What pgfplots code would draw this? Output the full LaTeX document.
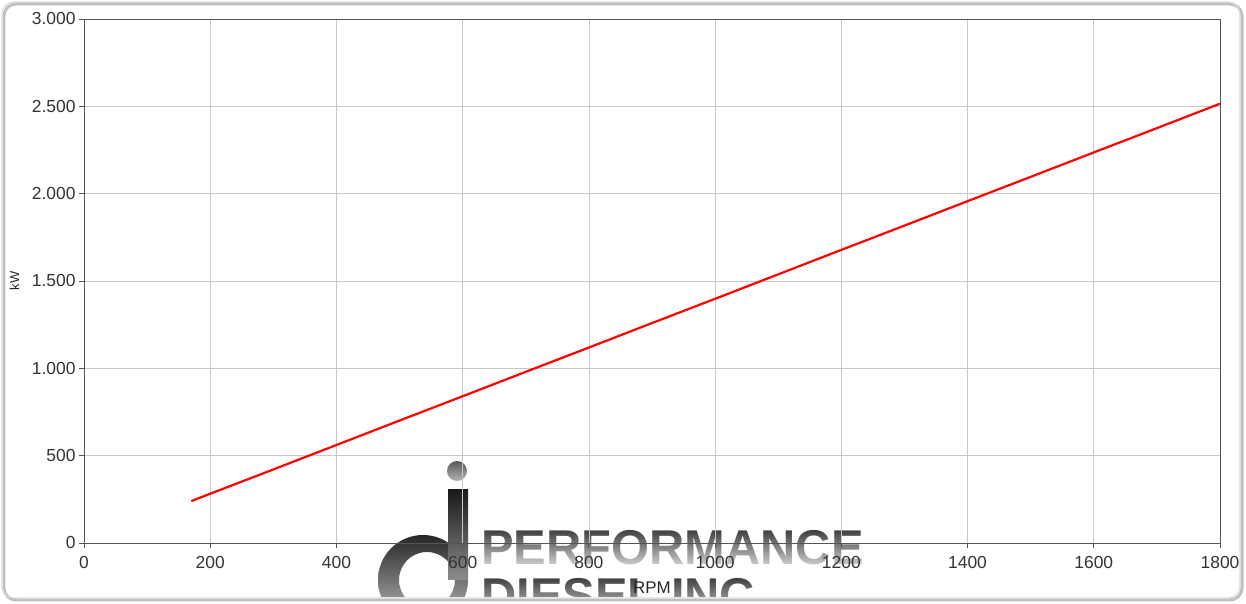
\documentclass[border=0pt]{standalone}
\usepackage{pgfplots}
\pgfplotsset{compat=1.18}
\usetikzlibrary{fadings}
\usepackage{fontspec}
\setmainfont{Liberation Sans}

\definecolor{gridgray}{HTML}{C8C8C8}
\definecolor{axisgray}{HTML}{555555}
\definecolor{framegray}{HTML}{DADADA}

\begin{document}
\begin{tikzpicture}
  % frame, shadow and watermark behind the axis (axis south west is the origin)
  \begin{scope}[x=1bp, y=1bp]
    \path[use as bounding box] (-84,-61) rectangle (1162,543);
    \draw[black!25, line width=3, rounded corners=12] (-80,-57) rectangle (1158,539);
    \draw[framegray, line width=1.2, rounded corners=12] (-82,-55) rectangle (1156,541);
    \clip (-82,-54) rectangle (1156,541);
    \shade[top color=black!85, bottom color=black!25, even odd rule]
      (339,-37) circle (45) (343,-37) circle (28);
    \shade[top color=black!90, bottom color=black!45]
      (364,53) rectangle (384,-37);
    \shade[top color=black!65, bottom color=black!30]
      (373,72) circle (10);
    \node[anchor=base west, inner sep=0pt, text=black!80,
      font=\fontsize{49}{50}\selectfont\bfseries] at (397,-22) {PERFORMANCE};
    \node[anchor=base west, inner sep=0pt, text=black!80,
      font=\fontsize{49}{50}\selectfont\bfseries] at (397,-70) {DIESEL INC.};
    \fill[white, fill opacity=0.8, path fading=north] (394,-24) rectangle (820,16);
    \fill[white, fill opacity=0.8, path fading=north] (394,-72) rectangle (820,-32);
  \end{scope}

  \begin{axis}[
      scale only axis,
      width=1136bp, height=524bp,
      xmin=0, xmax=1800,
      ymin=0, ymax=3000,
      xtick={0,200,...,1800},
      ytick={0,500,...,3000},
      grid=major,
      grid style={gridgray, line width=0.6pt},
      axis line style={axisgray, line width=0.8pt},
      tick style={axisgray, line width=0.8pt},
      tick align=outside,
      major tick length=5bp,
      xtick pos=bottom, ytick pos=left,
      /pgf/number format/assume math mode=true,
      xticklabel style={font=\fontsize{17.5}{19}\selectfont, text=black!80,
        yshift=-5bp, /pgf/number format/1000 sep={}},
      yticklabel style={font=\fontsize{17.5}{19}\selectfont, text=black!80,
        /pgf/number format/fixed, /pgf/number format/precision=0,
        /pgf/number format/1000 sep={.}},
      xlabel={RPM},
      ylabel={kW},
      xlabel style={font=\fontsize{17}{19}\selectfont, text=black!85, yshift=-6bp},
      ylabel style={font=\fontsize{13}{15}\selectfont, text=black!85, yshift=6bp},
    ]
    \addplot[red, line width=2.2pt] coordinates {
      (170,240) (200,282) (300,421) (400,561) (500,701) (600,840)
      (700,980) (800,1119) (900,1259) (1000,1398) (1100,1538)
      (1200,1678) (1300,1817) (1400,1957) (1500,2096) (1600,2236)
      (1700,2375) (1800,2515)};
  \end{axis}
\end{tikzpicture}
\end{document}
